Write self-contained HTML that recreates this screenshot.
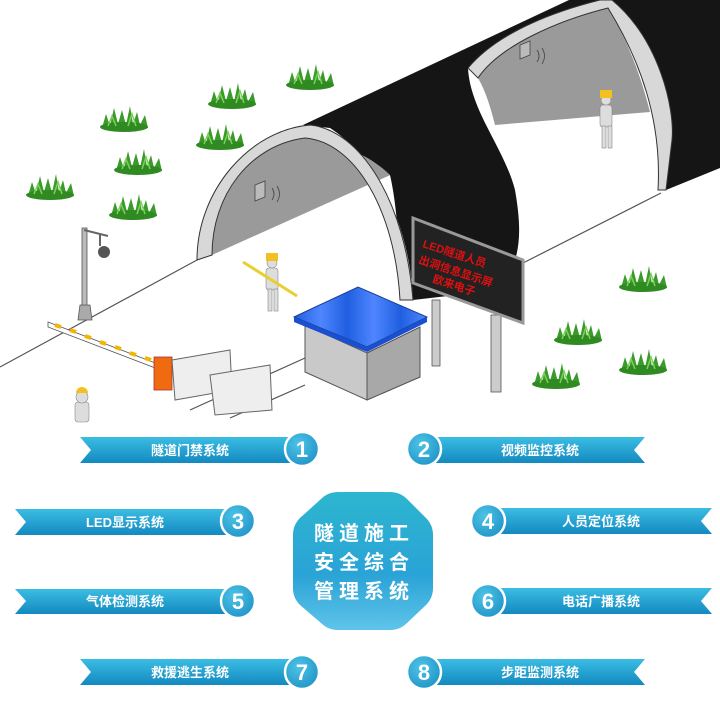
<!DOCTYPE html>
<html><head><meta charset="utf-8"><style>
html,body{margin:0;padding:0;background:#fff}
svg{display:block}
text{font-family:"Liberation Sans","Noto Sans CJK SC",sans-serif;font-weight:bold}
</style></head><body>
<svg width="720" height="718" viewBox="0 0 720 718" xmlns="http://www.w3.org/2000/svg">
<defs>
<linearGradient id="rib" x1="0" y1="0" x2="0" y2="1"><stop offset="0" stop-color="#3bbde3"/><stop offset="1" stop-color="#1389c0"/></linearGradient>
<linearGradient id="oct" x1="0" y1="0" x2="0" y2="1"><stop offset="0" stop-color="#2db6cf"/><stop offset="0.6" stop-color="#2aa3d6"/><stop offset="1" stop-color="#5fc4ea"/></linearGradient>
<radialGradient id="bad" cx="0.4" cy="0.35" r="0.7"><stop offset="0" stop-color="#4ec3e6"/><stop offset="1" stop-color="#1f94c8"/></radialGradient>
<linearGradient id="roof" x1="0" y1="0" x2="1" y2="0"><stop offset="0" stop-color="#1f5fe0"/><stop offset="0.2" stop-color="#4f86ff"/><stop offset="0.4" stop-color="#1f5fe0"/><stop offset="0.6" stop-color="#4f86ff"/><stop offset="0.8" stop-color="#1f5fe0"/><stop offset="1" stop-color="#4f86ff"/></linearGradient>
<g id="grass">
<path d="M-22 8 L-18 -6 L-14 6 L-10 -12 L-6 4 L-2 -10 L2 5 L6 -14 L9 4 L13 -8 L16 5 L21 -5 L24 8 Z" fill="#3a9a2a"/>
<ellipse cx="0" cy="7" rx="24" ry="5" fill="#2f8a22"/>
<path d="M-16 6 L-12 -4 L-8 6 M4 6 L8 -6 L12 6" stroke="#7dd05a" stroke-width="1.5" fill="none"/>
</g>
</defs>

<!-- road lines -->
<path d="M0 367 L197 260" stroke="#555" stroke-width="1.2" fill="none"/>
<path d="M523 263 L661 193" stroke="#555" stroke-width="1.2" fill="none"/>
<path d="M190 410 L305 358" stroke="#555" stroke-width="1.2" fill="none"/>
<path d="M230 418 L305 385" stroke="#555" stroke-width="1.2" fill="none"/>

<!-- black tunnel body -->
<path d="M303 125 L569 0 L600 0 C560 10 500 30 468 68 C470 110 505 150 515 190 C522 230 522 260 500 290 L413 300 C410 230 380 160 330 128 Z" fill="#151515"/>
<path d="M612 0 L720 0 L720 168 L666 190 L672 140 C675 110 660 40 612 0 Z" fill="#151515"/>
<!-- second section interior -->
<path d="M478 78 C500 45 560 20 608 8 C640 60 660 120 658 190 L540 250 C530 200 520 160 495 125 Z" fill="#fff"/>
<path d="M478 78 C500 45 560 20 608 8 C628 40 642 80 650 112 L495 125 C490 105 485 90 478 78 Z" fill="#9a9a9a"/>
<path d="M468 68 C500 30 560 10 600 0 L612 0 C660 40 675 110 672 140 L666 190 L658 190 C662 120 640 60 608 8 C560 20 500 45 478 78 Z" fill="#d8d8d8" stroke="#333" stroke-width="1"/>
<path d="M520 45 l10 -4 v14 l-10 4 z" fill="#bbb" stroke="#444" stroke-width="0.8"/>
<path d="M537 50 q4 6 0 12 M542 48 q5 8 0 16" stroke="#444" fill="none" stroke-width="0.8"/>
<!-- front arch -->
<path d="M212 255 L390 175 C398 210 400 260 400 300 L240 300 Z" fill="#fff"/>
<path d="M212 255 C212 195 250 145 305 138 C345 142 375 160 390 175 Z" fill="#9a9a9a"/>
<path d="M197 260 C197 190 250 130 310 125 C360 130 405 200 413 300 L400 300 C395 210 355 142 305 138 C250 145 212 195 212 255 Z" fill="#d8d8d8" stroke="#333" stroke-width="1"/>
<path d="M255 185 l10 -4 v16 l-10 4 z" fill="#bbb" stroke="#444" stroke-width="0.8"/>
<path d="M272 188 q4 6 0 12 M277 186 q5 8 0 16" stroke="#444" fill="none" stroke-width="0.8"/>

<!-- grass -->
<use href="#grass" x="124" y="120"/><use href="#grass" x="232" y="97"/><use href="#grass" x="310" y="78"/>
<use href="#grass" x="220" y="138"/><use href="#grass" x="138" y="163"/><use href="#grass" x="50" y="188"/>
<use href="#grass" x="133" y="208"/><use href="#grass" x="643" y="280"/><use href="#grass" x="578" y="333"/>
<use href="#grass" x="643" y="363"/><use href="#grass" x="556" y="377"/>

<!-- camera pole -->
<rect x="82" y="228" width="5" height="90" fill="#bbb" stroke="#555" stroke-width="0.8"/>
<path d="M84 230 L108 236 M100 234 L100 246" stroke="#666" stroke-width="2"/>
<circle cx="104" cy="252" r="6" fill="#555"/>
<path d="M78 320 L92 320 L90 305 L80 305 Z" fill="#aaa" stroke="#555" stroke-width="0.8"/>

<!-- barrier -->
<path d="M48 322 L158 364 L158 369 L48 327 Z" fill="#fff" stroke="#555" stroke-width="0.8"/>
<path d="M55 325 l6 2 M70 330 l6 2 M85 336 l6 2 M100 342 l6 2 M115 347 l6 2 M130 353 l6 2 M145 358 l6 2" stroke="#f4b400" stroke-width="4"/>
<rect x="154" y="357" width="18" height="33" fill="#f06a10" stroke="#a33" stroke-width="0.8"/>
<path d="M172 360 L230 350 L232 390 L175 400 Z" fill="#eee" stroke="#666" stroke-width="1"/>
<path d="M210 375 L270 365 L272 410 L215 415 Z" fill="#eee" stroke="#666" stroke-width="1"/>

<!-- booth -->
<path d="M305 325 L367 353 L420 327 L420 377 L367 400 L305 372 Z" fill="#c9c9c9" stroke="#555" stroke-width="1"/>
<path d="M367 353 L420 327 L420 377 L367 400 Z" fill="#a8a8a8" stroke="#555" stroke-width="1"/>
<path d="M294 317 L358 287 L427 317 L367 347 Z" fill="url(#roof)" stroke="#1a3f9a" stroke-width="1"/>
<path d="M294 317 L367 347 L367 352 L294 322 Z M367 347 L427 317 L427 322 L367 352 Z" fill="#1a4fd0"/>

<!-- LED sign -->
<rect x="432" y="300" width="8" height="66" fill="#ccc" stroke="#555" stroke-width="0.8"/>
<rect x="491" y="315" width="10" height="77" fill="#ccc" stroke="#555" stroke-width="0.8"/>
<path d="M413 218 L523 260 L523 323 L413 283 Z" fill="#222" stroke="#999" stroke-width="3"/>
<text x="422" y="247" font-size="11" fill="#e01010" transform="rotate(18 422 247)" font-weight="normal">LED隧道人员</text>
<text x="418" y="263" font-size="11" fill="#e01010" transform="rotate(18 418 263)" font-weight="normal">出洞信息显示屏</text>
<text x="432" y="282" font-size="11" fill="#e01010" transform="rotate(18 432 282)" font-weight="normal">欧来电子</text>

<!-- workers -->
<g fill="#ddd" stroke="#888" stroke-width="0.6">
<rect x="266" y="268" width="12" height="22" rx="3"/><rect x="268" y="289" width="4" height="22"/><rect x="274" y="289" width="4" height="22"/><circle cx="272" cy="263" r="5"/>
<rect x="600" y="105" width="12" height="22" rx="3"/><rect x="602" y="126" width="4" height="22"/><rect x="608" y="126" width="4" height="22"/><circle cx="606" cy="100" r="5"/>
<rect x="75" y="402" width="14" height="20" rx="3"/><circle cx="82" cy="397" r="6"/>
</g>
<rect x="266" y="253" width="12" height="8" fill="#f4c020"/>
<rect x="600" y="90" width="12" height="8" fill="#f4c020"/>
<path d="M76 393 a6 6 0 0 1 12 0 z" fill="#f4c020"/>
<path d="M243 262 L297 296" stroke="#e8d030" stroke-width="3"/>

<!-- center octagon -->
<path d="M338 492 L390 492 Q400 492 407 499 L426 518 Q433 525 433 535 L433 588 Q433 598 426 605 L407 623 Q400 630 390 630 L338 630 Q328 630 321 623 L300 605 Q293 598 293 588 L293 535 Q293 525 300 518 L321 499 Q328 492 338 492 Z" fill="url(#oct)"/>
<text x="364" y="540" font-size="20" fill="#fff" text-anchor="middle" letter-spacing="5">隧道施工</text>
<text x="364" y="569" font-size="20" fill="#fff" text-anchor="middle" letter-spacing="5">安全综合</text>
<text x="364" y="598" font-size="20" fill="#fff" text-anchor="middle" letter-spacing="5">管理系统</text>

<!-- left ribbons -->
<path d="M80 437 L295 437 L295 463 L80 463 L91 450 Z" fill="url(#rib)"/>
<text x="190" y="455" font-size="13" fill="#fff" text-anchor="middle">隧道门禁系统</text>
<path d="M15 509 L230 509 L230 535 L15 535 L26 522 Z" fill="url(#rib)"/>
<text x="125" y="527" font-size="13" fill="#fff" text-anchor="middle">LED显示系统</text>
<path d="M15 589 L230 589 L230 614 L15 614 L26 601 Z" fill="url(#rib)"/>
<text x="125" y="606" font-size="13" fill="#fff" text-anchor="middle">气体检测系统</text>
<path d="M80 659 L295 659 L295 685 L80 685 L91 672 Z" fill="url(#rib)"/>
<text x="190" y="677" font-size="13" fill="#fff" text-anchor="middle">救援逃生系统</text>

<!-- right ribbons -->
<path d="M430 437 L645 437 L634 450 L645 463 L430 463 Z" fill="url(#rib)"/>
<text x="540" y="455" font-size="13" fill="#fff" text-anchor="middle">视频监控系统</text>
<path d="M495 508 L712 508 L701 521 L712 534 L495 534 Z" fill="url(#rib)"/>
<text x="601" y="526" font-size="13" fill="#fff" text-anchor="middle">人员定位系统</text>
<path d="M495 588 L712 588 L701 601 L712 614 L495 614 Z" fill="url(#rib)"/>
<text x="601" y="606" font-size="13" fill="#fff" text-anchor="middle">电话广播系统</text>
<path d="M430 659 L645 659 L634 672 L645 685 L430 685 Z" fill="url(#rib)"/>
<text x="540" y="677" font-size="13" fill="#fff" text-anchor="middle">步距监测系统</text>

<!-- badges -->
<g stroke="#fff" stroke-width="2.5" fill="url(#bad)">
<circle cx="302" cy="449" r="17"/>
<circle cx="424" cy="449" r="17"/>
<circle cx="238" cy="521" r="17"/>
<circle cx="488" cy="521" r="17"/>
<circle cx="238" cy="601" r="17"/>
<circle cx="488" cy="601" r="17"/>
<circle cx="302" cy="672" r="17"/>
<circle cx="424" cy="672" r="17"/>
</g>
<g font-size="22" fill="#fff" text-anchor="middle">
<text x="302" y="457" font-weight="normal">1</text>
<text x="424" y="457" font-weight="normal">2</text>
<text x="238" y="529" font-weight="normal">3</text>
<text x="488" y="529" font-weight="normal">4</text>
<text x="238" y="609" font-weight="normal">5</text>
<text x="488" y="609" font-weight="normal">6</text>
<text x="302" y="680" font-weight="normal">7</text>
<text x="424" y="680" font-weight="normal">8</text>
</g>
</svg>
</body></html>
